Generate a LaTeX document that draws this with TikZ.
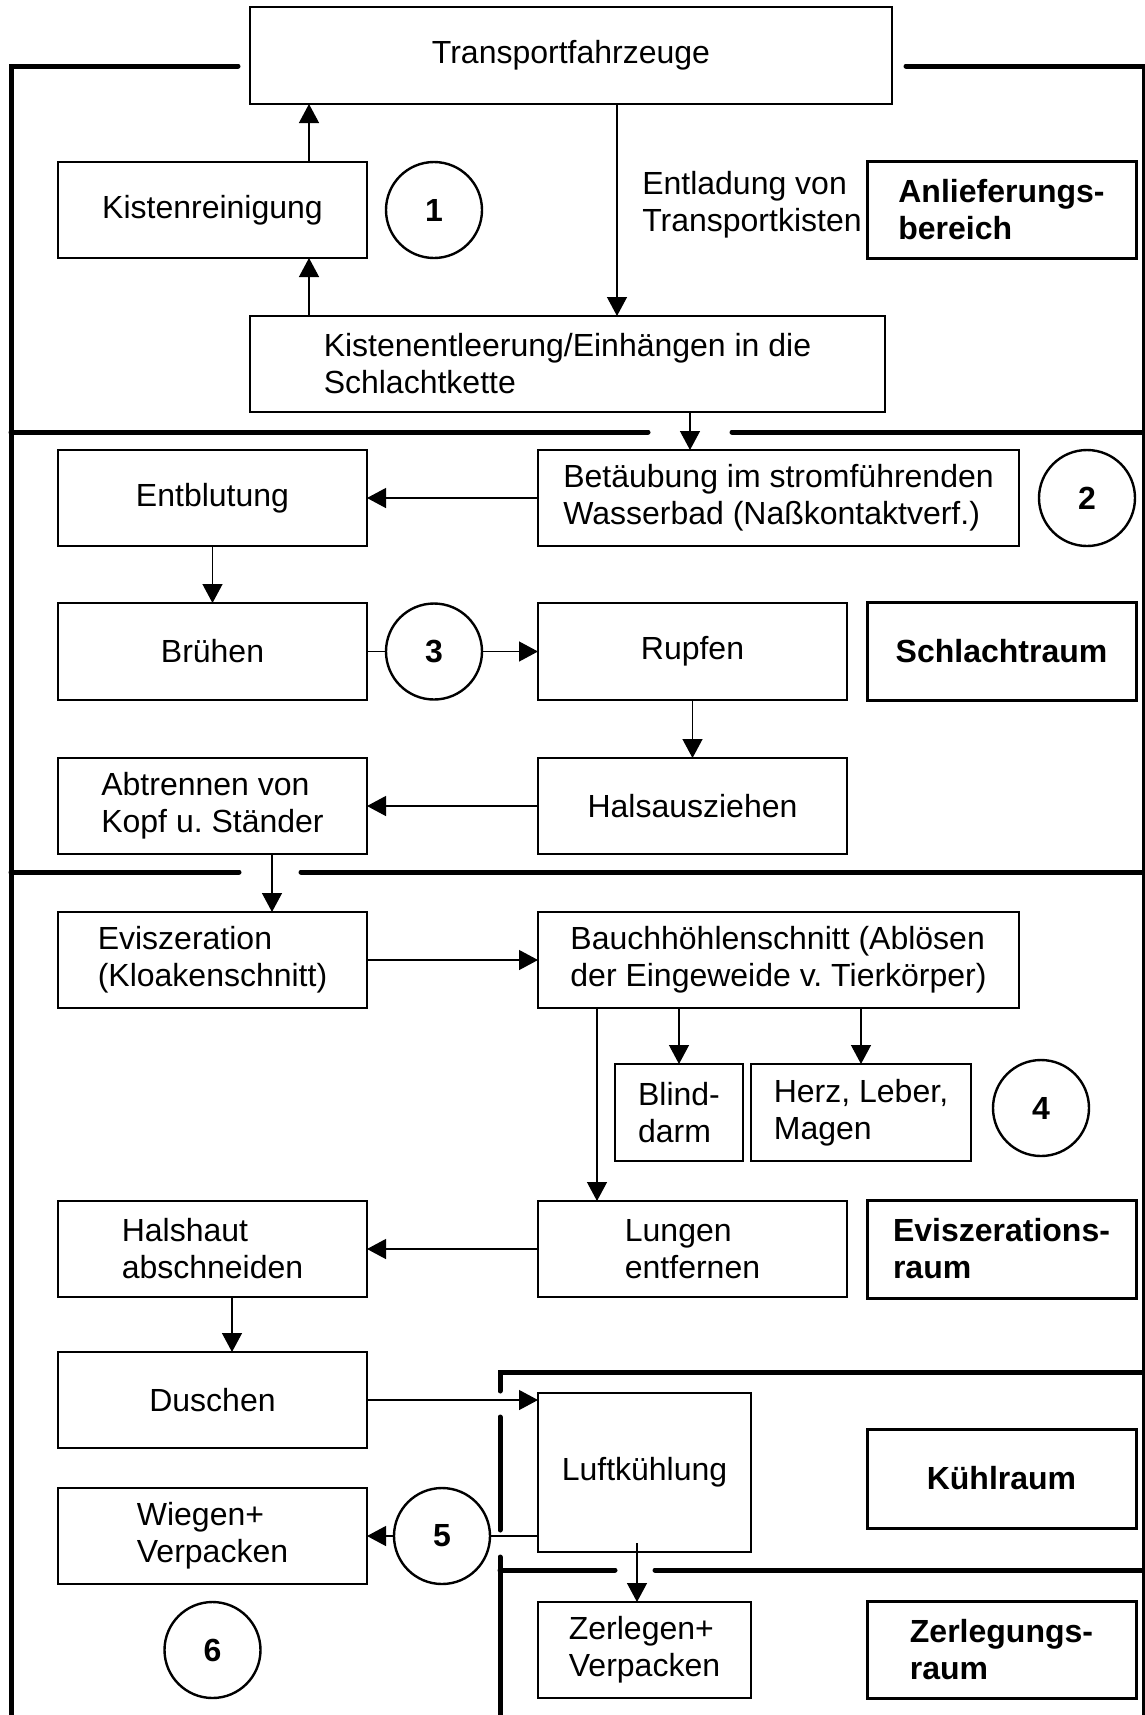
\documentclass[tikz,border=0pt]{standalone}
\usepackage{fontspec}
\setmainfont{Liberation Sans}
\usetikzlibrary{arrows.meta,positioning}

\begin{document}
\begin{tikzpicture}[
  x=0.5pt, y=-0.5pt,
  font=\fontsize{16}{18.5}\selectfont,
  box/.style={draw, line width=0.8pt, align=left, inner sep=2pt, outer sep=0pt,
    minimum width=154.5pt, minimum height=48pt},
  wide/.style={box, minimum width=240.5pt},
  area/.style={draw, line width=1.5pt, align=left, inner sep=2pt, outer sep=0pt,
    minimum width=134.5pt, minimum height=48.5pt,
    font=\bfseries\fontsize{16}{18.5}\selectfont},
  stage/.style={circle, draw, line width=1.2pt, minimum size=48pt, inner sep=0pt,
    outer sep=0pt, font=\bfseries\fontsize{16}{18.5}\selectfont},
  arrow/.style={-{Triangle[length=9.5pt,width=10pt]}, line width=0.65pt},
  link/.style={line width=0.65pt},
  wall/.style={line width=2.5pt, line cap=round}
]
\fill[white] (0,0) rectangle (1145,1715);
\useasboundingbox (0,0) rectangle (1145,1715);

\node[box, minimum width=321pt, minimum height=48.5pt] (transport) at (571,55.5) {Transportfahrzeuge};
\node[box] (reinigung) at (212.5,210) {Kistenreinigung};
\node[stage, right=9.5pt of reinigung] (s1) {1};
\node[box, minimum width=317.5pt, below=106pt of transport, xshift=-1.75pt] (leerung)
  {Kistenentleerung/Einhängen in die\\Schlachtkette};
\node[box, below=96pt of reinigung] (entblutung) {Entblutung};
\node[wide, right=85.5pt of entblutung] (betaeubung)
  {Betäubung im stromführenden\\Wasserbad (Naßkontaktverf.)};
\node[stage, right=10pt of betaeubung] (s2) {2};
\node[box, minimum height=48.5pt, below=28.5pt of entblutung] (bruehen) {Brühen};
\node[stage, right=9.5pt of bruehen] (s3) {3};
\node[box, minimum height=48.5pt, right=85.5pt of bruehen] (rupfen) {Rupfen};
\node[area, minimum height=49pt, right=10pt of rupfen] (schlacht) {Schlachtraum};
\node[area] (anlief) at (reinigung -| schlacht) {Anlieferungs-\\bereich};
\node[left=2.5pt of anlief, yshift=2.5pt, align=left, inner sep=0pt] (entladung)
  {Entladung von\\Transportkisten};
\node[box, below=29pt of bruehen] (abtrennen) {Abtrennen von\\Kopf u.\ Ständer};
\node[box, right=85.5pt of abtrennen] (hals) {Halsausziehen};
\node[box, below=29pt of abtrennen] (eviszeration) {Eviszeration\\(Kloakenschnitt)};
\node[wide, right=85.5pt of eviszeration] (bauch)
  {Bauchhöhlenschnitt (Ablösen\\der Eingeweide v.\ Tierkörper)};
\node[box, minimum width=64pt, minimum height=48.5pt,
  below right=28pt and 38.5pt of bauch.south west] (blind) {Blind-\\darm};
\node[box, minimum width=110pt, minimum height=48.5pt, right=4pt of blind] (herz)
  {Herz, Leber,\\Magen};
\node[stage, right=11pt of herz, yshift=2.25pt] (s4) {4};
\node[box, below=96.5pt of eviszeration] (halshaut) {Halshaut\\abschneiden};
\node[box, right=85.5pt of halshaut] (lungen) {Lungen\\entfernen};
\node[area, minimum height=49pt, right=10pt of lungen] (eviszraum) {Eviszerations-\\raum};
\node[box, below=27.5pt of halshaut] (duschen) {Duschen};
\node[box, minimum width=106.5pt, minimum height=79.5pt,
  below=48pt of lungen.south west, anchor=north west] (luft) {Luftkühlung};
\node[area, minimum height=49.5pt, right=58pt of luft, yshift=-3pt] (kuehl) {Kühlraum};
\node[box, below=20pt of duschen] (wiegen) {Wiegen+\\Verpacken};
\node[stage, right=13.5pt of wiegen] (s5) {5};
\node[box, minimum width=106.5pt, below=25pt of luft] (zerlegen) {Zerlegen+\\Verpacken};
\node[area, right=58pt of zerlegen] (zerlegraum) {Zerlegungs-\\raum};
\node[stage, below=9pt of wiegen] (s6) {6};

\draw[arrow] ([xshift=23pt]transport.south) -- ([xshift=23pt]transport.south |- leerung.north);
\draw[arrow] ([xshift=48.25pt]reinigung.south |- leerung.north) -- ([xshift=48.25pt]reinigung.south);
\draw[arrow] ([xshift=48.25pt]reinigung.north) -- ([xshift=48.25pt]reinigung.north |- transport.south);
\draw[arrow] ([xshift=61.25pt]leerung.south) -- ([xshift=61.25pt]leerung.south |- betaeubung.north);
\draw[arrow] (betaeubung) -- (entblutung);
\draw[arrow] (entblutung) -- (bruehen);
\draw[link] (bruehen) -- (s3);
\draw[arrow] (s3) -- (rupfen);
\draw[arrow] (rupfen) -- (hals);
\draw[arrow] (hals) -- (abtrennen);
\draw[arrow] ([xshift=29.75pt]abtrennen.south) -- ([xshift=29.75pt]abtrennen.south |- eviszeration.north);
\draw[arrow] (eviszeration) -- (bauch);
\draw[arrow] (bauch.south -| blind) -- (blind);
\draw[arrow] (bauch.south -| herz) -- (herz);
\draw[arrow] ([xshift=29.5pt]lungen.north west |- bauch.south) -- ([xshift=29.5pt]lungen.north west);
\draw[arrow] (lungen) -- (halshaut);
\draw[arrow] ([xshift=9.75pt]halshaut.south) -- ([xshift=9.75pt]halshaut.south |- duschen.north);
\draw[arrow] (duschen.east) -- (duschen.east -| luft.west);
\draw[link] (luft.west |- s5) -- (s5);
\draw[arrow] (s5) -- (wiegen);
\draw[arrow] ([xshift=-3.75pt,yshift=4.5pt]luft.south) -- ([xshift=-3.75pt]luft.south |- zerlegen.north);

\draw[wall] (238,66) -- (11,66) -- (11,1715);
\draw[wall] (906,66) -- (1144,66) -- (1144,1715);
\draw[wall] (11,432) -- (648,432);
\draw[wall] (732,432) -- (1145,432);
\draw[wall] (11,872) -- (239,872);
\draw[wall] (301,872) -- (1145,872);
\draw[wall] (1145,1372) -- (500,1372) -- (500,1391);
\draw[wall] (500,1417) -- (500,1530);
\draw[wall] (500,1557) -- (500,1715);
\draw[wall] (500,1570) -- (615,1570);
\draw[wall] (655,1570) -- (1145,1570);
\end{tikzpicture}
\end{document}
